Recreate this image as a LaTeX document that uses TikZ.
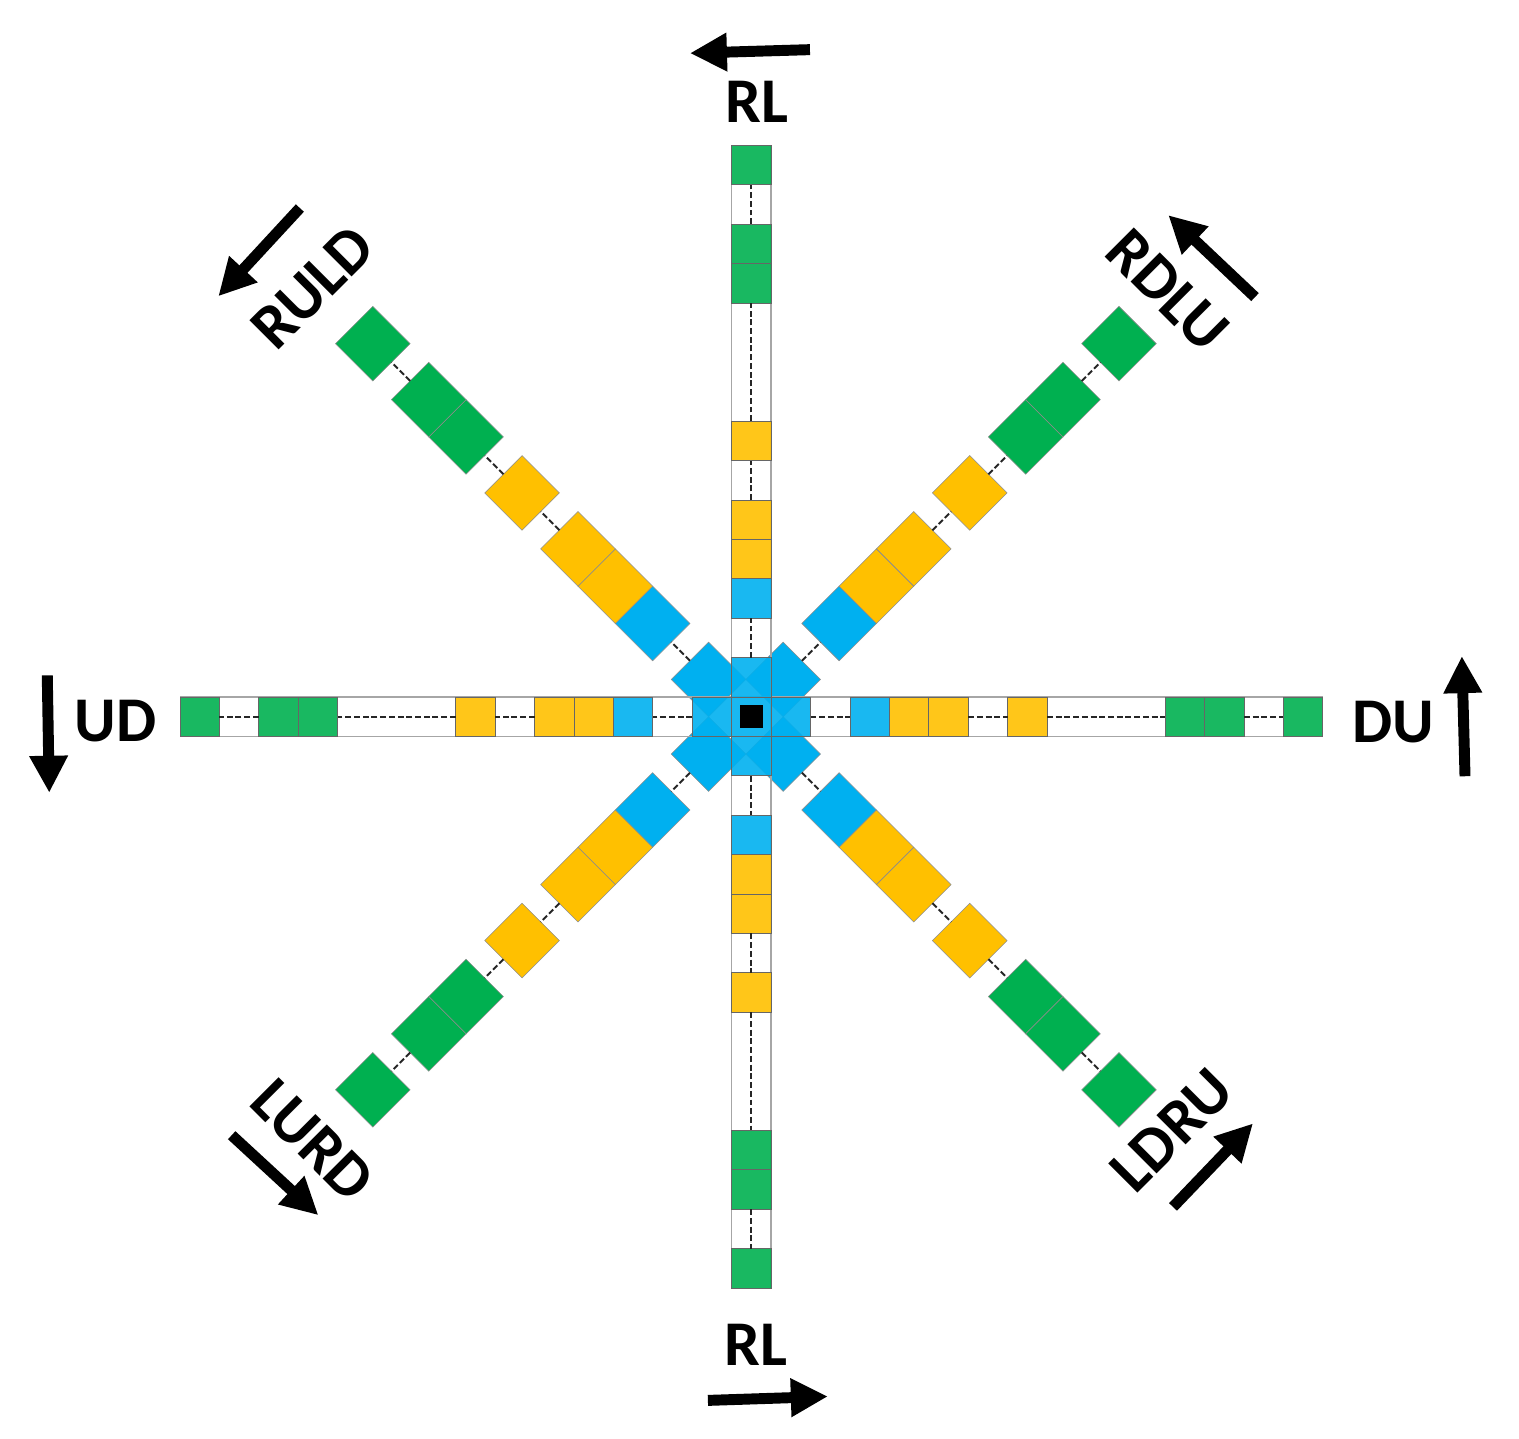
\documentclass[tikz,border=0pt]{standalone}
\usepackage{fontspec}
\setmainfont{Carlito}
\usetikzlibrary{arrows.meta}

\definecolor{pixgreen}{HTML}{00B050}
\definecolor{pixyellow}{HTML}{FFC000}
\definecolor{pixblue}{HTML}{00B0F0}

\tikzset{
        cell/.style={draw=black!60, line width=0.6pt, fill opacity=0.9, minimum size=1cm, inner sep=0pt, outer sep=0pt},
        dcell/.style={draw=black!45, line width=0.4pt, rotate=45, minimum size=1.339cm, inner sep=0pt, outer sep=0pt},
        link/.style={black!85, line width=1.4pt, dash pattern=on 4.3pt off 2pt},
        rail/.style={black!35, line width=1.1pt},
        dirarrow/.style={line width=7.9pt, -{Triangle[length=0.94cm, width=0.92cm]}},
        dirlabel/.style={font=\fontsize{46}{50}\selectfont\bfseries, inner sep=0pt}
}

\begin{document}
\begin{tikzpicture}
        \useasboundingbox (-19.07,-18.31) rectangle (19.48,18.19);
        % diagonal arms
        \begin{scope}[xshift=-0.14cm]
            \foreach \d/\a in {ne/45, nw/135, sw/225, se/315} {
                \foreach \p/\c [count=\i] in {1/pixblue, 2.5/pixblue, 3.5/pixyellow, 4.5/pixyellow, 6/pixyellow, 7.5/pixgreen, 8.5/pixgreen, 10/pixgreen}
                    \node[dcell, fill=\c] (\d\i) at (\a:{\p*1.339}) {};
                \draw[link] (\d1) -- (\d2);
                \draw[link] (\d4) -- (\d5);
                \draw[link] (\d5) -- (\d6);
                \draw[link] (\d7) -- (\d8);
            }
        \end{scope}
        % rails of the straight arms
        \draw[rail] (-14.5,0.5) -- (14.5,0.5);
        \draw[rail] (-14.5,-0.5) -- (14.5,-0.5);
        \draw[rail] (0.5,-14.5) -- (0.5,14.5);
        \draw[rail] (-0.5,-14.5) -- (-0.5,14.5);
        % straight arms
        \foreach \d/\a in {e/0, n/90, w/180, s/270} {
            \foreach \k/\c in {1/pixblue, 3/pixblue, 4/pixyellow, 5/pixyellow, 7/pixyellow, 11/pixgreen, 12/pixgreen, 14/pixgreen}
                \node[cell, fill=\c] (\d\k) at (\a:\k) {};
            \draw[link] (\d1) -- (\d3);
            \draw[link] (\d5) -- (\d7);
            \draw[link] (\d7) -- (\d11);
            \draw[link] (\d12) -- (\d14);
        }
        \node[cell, fill=pixblue] (hub) at (0,0) {};
        \node[fill=black, minimum size=0.576cm, inner sep=0pt] (core) at (hub) {};

        % labels
        \node[dirlabel] (rltop) at (0.13,15.60) {RL};
        \node[dirlabel] (rlbot) at (0.11,-15.95) {RL};
        \node[dirlabel] (ud) at (-16.13,-0.10) {UD};
        \node[dirlabel] (du) at (16.28,-0.14) {DU};
        \node[dirlabel, rotate=45] (ruld) at (-11.13,10.90) {RULD};
        \node[dirlabel, rotate=-45] (rdlu) at (10.57,10.82) {RDLU};
        \node[dirlabel, rotate=-45] (lurd) at (-11.13,-10.75) {LURD};
        \node[dirlabel, rotate=45] (ldru) at (10.67,-10.49) {LDRU};

        % direction arrows
        \coordinate (rltopa) at (1.485,16.93);
        \coordinate (rltopb) at (-1.561,16.84);
        \coordinate (rlbota) at (-1.104,-17.35);
        \coordinate (rlbotb) at (1.94,-17.25);
        \coordinate (uda) at (-17.87,1.05);
        \coordinate (udb) at (-17.82,-1.93);
        \coordinate (dua) at (18.11,-1.51);
        \coordinate (dub) at (18.03,1.54);
        \coordinate (rulda) at (-11.46,12.91);
        \coordinate (ruldb) at (-13.53,10.67);
        \coordinate (rdlua) at (12.78,10.65);
        \coordinate (rdlub) at (10.58,12.73);
        \coordinate (lurda) at (-13.19,-10.62);
        \coordinate (lurdb) at (-10.99,-12.65);
        \coordinate (ldrua) at (10.70,-12.44);
        \coordinate (ldrub) at (12.73,-10.32);
        \foreach \n in {rltop, rlbot, ud, du, ruld, rdlu, lurd, ldru}
            \draw[dirarrow] (\n a) -- (\n b);
\end{tikzpicture}
\end{document}
